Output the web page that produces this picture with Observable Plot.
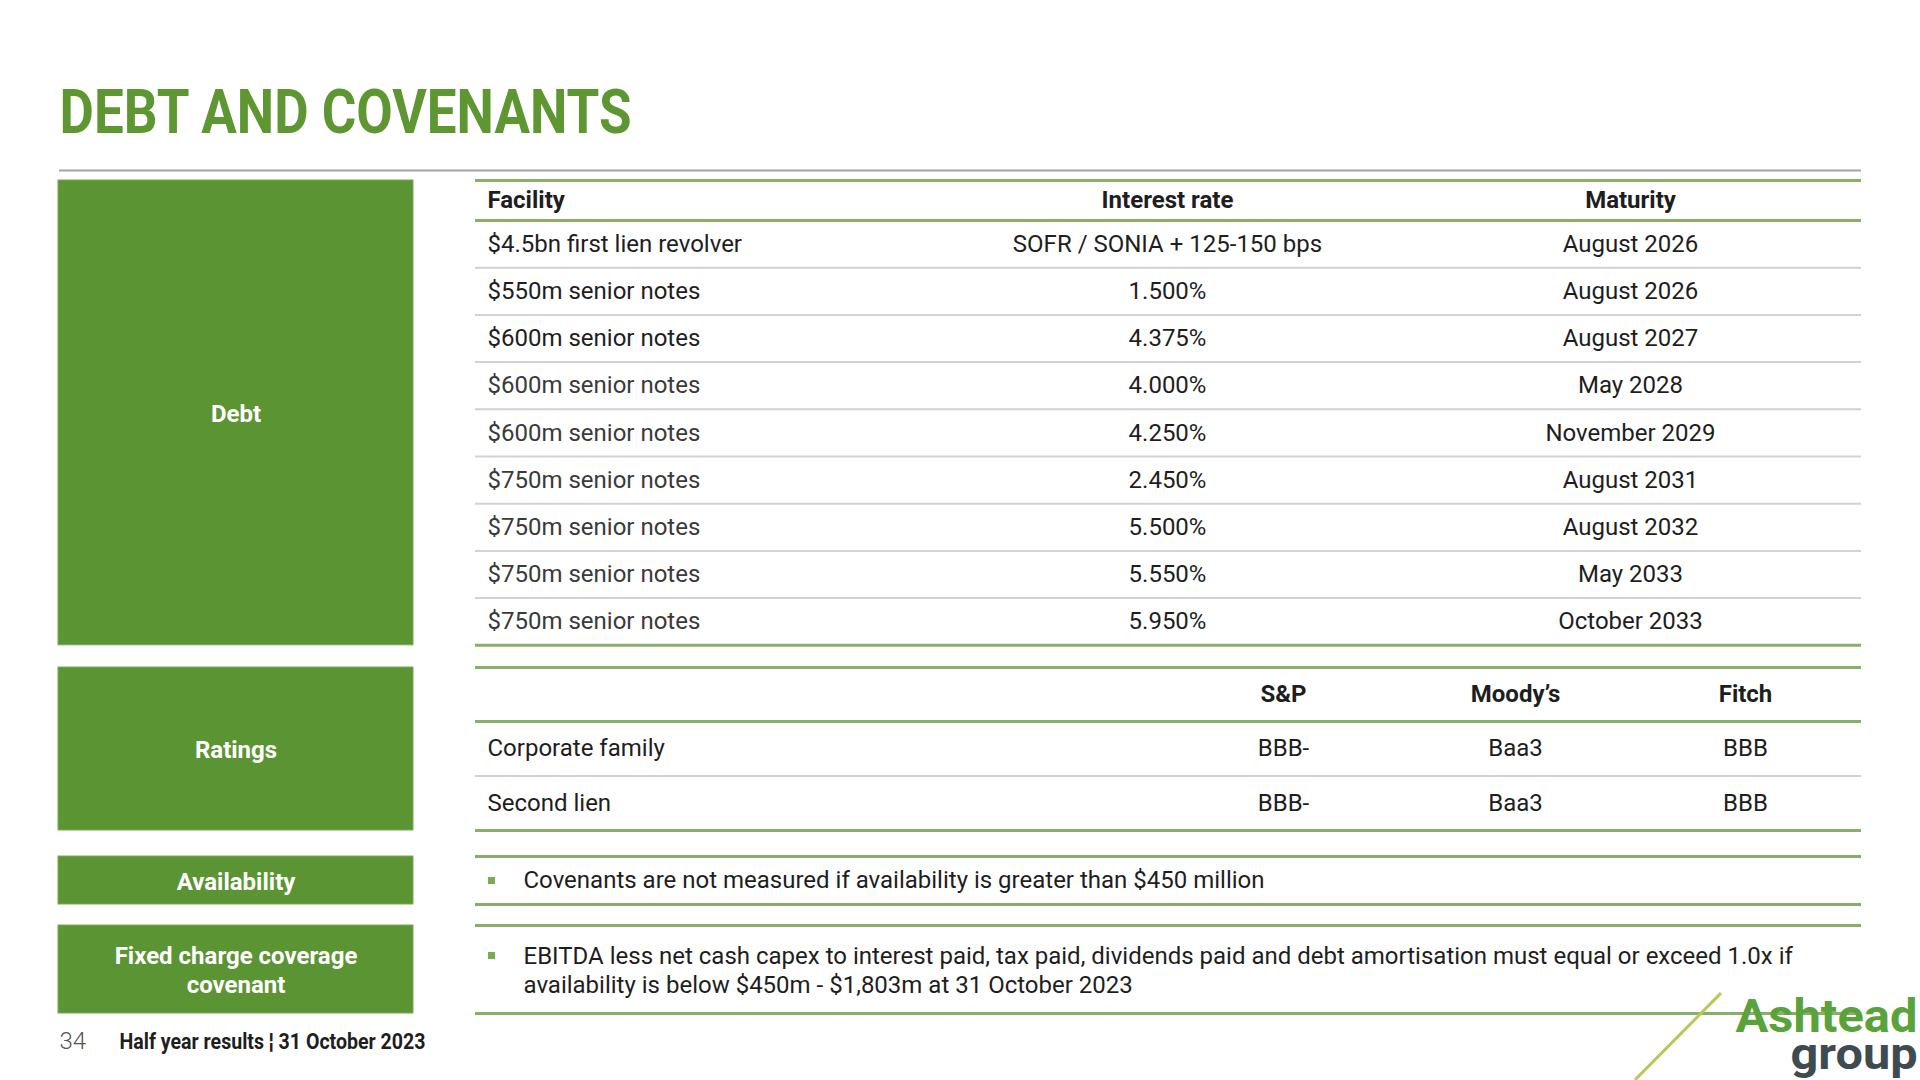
<!DOCTYPE html>
<html>
<head>
<meta charset="utf-8">
<script src="https://cdn.jsdelivr.net/npm/d3@7"></script>
<script src="https://cdn.jsdelivr.net/npm/@observablehq/plot@0.6"></script>
<style>
  html, body { margin: 0; padding: 0; background: #ffffff; }
  #slide { position: relative; width: 1920px; height: 1080px; overflow: hidden; background: #ffffff; font-family: Roboto, sans-serif; }
  #slide svg { position: absolute; left: 0; top: 0; }
  #stripe { position: absolute; left: 1617px; top: 1035px; width: 122px; height: 3px; background: #bcc65a; transform: rotate(-45.3deg); }
</style>
</head>
<body>
<div id="slide"><div id="stripe"></div></div>
<script>
// ---------------- data ----------------
const title = "DEBT AND COVENANTS";
const sections = ["Debt", "Ratings", "Availability", "Fixed charge coverage\ncovenant"];
const debtColumns = ["Facility", "Interest rate", "Maturity"];
const facilities = [
  "$4.5bn first lien revolver", "$550m senior notes", "$600m senior notes",
  "$600m senior notes", "$600m senior notes", "$750m senior notes",
  "$750m senior notes", "$750m senior notes", "$750m senior notes"
];
const interestRates = [
  "SOFR / SONIA + 125-150 bps", "1.500%", "4.375%", "4.000%", "4.250%",
  "2.450%", "5.500%", "5.550%", "5.950%"
];
const maturities = [
  "August 2026", "August 2026", "August 2027", "May 2028", "November 2029",
  "August 2031", "August 2032", "May 2033", "October 2033"
];
const ratingAgencies = ["S&P", "Moody’s", "Fitch"];
const ratingRows = ["Corporate family", "Second lien"];
const ratingSP = ["BBB-", "BBB-"];
const ratingMoodys = ["Baa3", "Baa3"];
const ratingFitch = ["BBB", "BBB"];
const availabilityText = "Covenants are not measured if availability is greater than $450 million";
const covenantText = "EBITDA less net cash capex to interest paid, tax paid, dividends paid and debt amortisation must equal or exceed 1.0x if\navailability is below $450m - $1,803m at 31 October 2023";
const pageNumber = "34";
const footerText = "Half year results ¦ 31 October 2023";
const logoWords = ["Ashtead", "group"];

// ---------------- layout (slide pixels) ----------------
const L = {
  titleX: 59, titleBase: 132, titleLen: 572,
  topRuleY: 170, topRuleX1: 59, topRuleX2: 1861,
  boxX1: 58, boxX2: 413,
  tX1: 475, tX2: 1861, textX: 487,
  colRate: 1167, colMat: 1630,
  colRatings: [1283, 1515, 1745],
  bulletX: 491, bulletTextX: 523,
  debtTop: 180, debtHead: 40, debtRow: 47.2,
  ratTop: 667, ratHead: 54, ratRow: 54.5,
  availTop: 856, availBottom: 904,
  fixTop: 925, fixBottom: 1013,
  footY: 1041, pageX: 59, footX: 119, footLen: 306,
  logoRight: 1917, ashteadBase: 1031, groupBase: 1068
};

const GREEN = "#5b9432", TITLE_GREEN = "#5e9732", RULE_GREEN = "#8aae67", RULE_GRAY = "#d2d2d2", INK = "#1e1e1e";

// ---------------- derived mark tables ----------------
const debtHeadBottom = L.debtTop + L.debtHead;
const debtBottom = debtHeadBottom + L.debtRow * facilities.length;
const ratHeadBottom = L.ratTop + L.ratHead;
const ratBottom = ratHeadBottom + L.ratRow * ratingRows.length;

const boxes = [
  {label: sections[0], y1: L.debtTop, y2: debtBottom},
  {label: sections[1], y1: L.ratTop, y2: ratBottom},
  {label: sections[2], y1: L.availTop, y2: L.availBottom},
  {label: sections[3], y1: L.fixTop, y2: L.fixBottom}
];

const greenRules = [L.debtTop, debtHeadBottom, debtBottom, L.ratTop, ratHeadBottom, ratBottom,
  L.availTop, L.availBottom, L.fixTop, L.fixBottom].map(y => ({y}));
const grayRules = [
  ...d3.range(1, facilities.length).map(i => ({y: debtHeadBottom + i * L.debtRow})),
  ...d3.range(1, ratingRows.length).map(i => ({y: ratHeadBottom + i * L.ratRow}))
];

const debtHeadY = L.debtTop + L.debtHead / 2;
const ratHeadY = L.ratTop + L.ratHead / 2;
const headStart = [{text: debtColumns[0], x: L.textX, y: debtHeadY}];
const headMiddle = [
  {text: debtColumns[1], x: L.colRate, y: debtHeadY},
  {text: debtColumns[2], x: L.colMat, y: debtHeadY},
  ...ratingAgencies.map((a, j) => ({text: a, x: L.colRatings[j], y: ratHeadY}))
];

const rowY = i => debtHeadBottom + L.debtRow * (i + 0.5);
const ratY = i => ratHeadBottom + L.ratRow * (i + 0.5);
const bodyStart = [
  ...facilities.map((t, i) => ({text: t, x: L.textX, y: rowY(i), fill: i < 3 ? INK : "#3a3a3a"})),
  ...ratingRows.map((t, i) => ({text: t, x: L.textX, y: ratY(i), fill: INK})),
  {text: availabilityText, x: L.bulletTextX, y: (L.availTop + L.availBottom) / 2, fill: INK}
];
const covenantCell = [{text: covenantText, x: L.bulletTextX, y: (L.fixTop + L.fixBottom) / 2}];
const bodyMiddle = [
  ...interestRates.map((t, i) => ({text: t, x: L.colRate, y: rowY(i)})),
  ...maturities.map((t, i) => ({text: t, x: L.colMat, y: rowY(i)})),
  ...ratingSP.map((t, i) => ({text: t, x: L.colRatings[0], y: ratY(i)})),
  ...ratingMoodys.map((t, i) => ({text: t, x: L.colRatings[1], y: ratY(i)})),
  ...ratingFitch.map((t, i) => ({text: t, x: L.colRatings[2], y: ratY(i)}))
];

const bullets = [
  {y: (L.availTop + L.availBottom) / 2},
  {y: (L.fixTop + L.fixBottom) / 2 - 14}
];

// ---------------- plot ----------------
const svg = Plot.plot({
  width: 1920, height: 1080,
  margin: 0,
  x: {type: "linear", domain: [0, 1920], range: [0, 1920], axis: null},
  y: {type: "linear", domain: [0, 1080], range: [0, 1080], axis: null},
  style: {fontFamily: "Roboto, sans-serif", background: "#ffffff", overflow: "visible"},
  marks: [
    // title
    Plot.text([title], {x: L.titleX, y: L.titleBase, text: d => d, textAnchor: "start", lineAnchor: "bottom",
      fontSize: 62, fontWeight: "bold", fill: TITLE_GREEN}),
    // top separator
    Plot.ruleY([L.topRuleY], {x1: L.topRuleX1, x2: L.topRuleX2, stroke: "#a3a3a3", strokeWidth: 2}),
    // section boxes
    Plot.rect(boxes, {x1: L.boxX1, x2: L.boxX2, y1: "y1", y2: "y2", fill: GREEN, stroke: "#7aa956", strokeWidth: 1}),
    Plot.text(boxes, {x: (L.boxX1 + L.boxX2) / 2, y: d => (d.y1 + d.y2) / 2, text: "label", fill: "#ffffff",
      textAnchor: "middle", fontSize: 24, fontWeight: "bold", lineAnchor: "middle", lineHeight: 1.17}),
    // table rules
    Plot.ruleY(grayRules, {y: "y", x1: L.tX1, x2: L.tX2, stroke: RULE_GRAY, strokeWidth: 2}),
    Plot.ruleY(greenRules, {y: "y", x1: L.tX1, x2: L.tX2, stroke: RULE_GREEN, strokeWidth: 3}),
    // headers
    Plot.text(headStart, {x: "x", y: "y", text: "text", textAnchor: "start", fontSize: 24, fontWeight: "bold",
      fill: INK, lineAnchor: "middle"}),
    Plot.text(headMiddle, {x: "x", y: "y", text: "text", textAnchor: "middle", fontSize: 24, fontWeight: "bold",
      fill: INK, lineAnchor: "middle"}),
    // body
    Plot.text(bodyStart, {x: "x", y: "y", text: "text", textAnchor: "start", fontSize: 24,
      fill: d => d.fill, lineAnchor: "middle"}),
    Plot.text(covenantCell, {x: "x", y: "y", text: "text", textAnchor: "start", fontSize: 24,
      fill: INK, lineAnchor: "middle", lineHeight: 1.17}),
    Plot.text(bodyMiddle, {x: "x", y: "y", text: "text", textAnchor: "middle", fontSize: 24,
      fill: INK, lineAnchor: "middle"}),
    // bullets
    Plot.dot(bullets, {x: L.bulletX, y: "y", symbol: "square", r: 4, fill: "#7aab55", stroke: null}),
    // footer
    Plot.text([pageNumber], {x: L.pageX, y: L.footY, text: d => d, textAnchor: "start", lineAnchor: "middle",
      fontSize: 24, fontWeight: 300, fill: "#555555"}),
    Plot.text([footerText], {x: L.footX, y: L.footY, text: d => d, textAnchor: "start", lineAnchor: "middle",
      fontSize: 22, fontWeight: "bold", fill: INK}),
    // logo words
    Plot.text([logoWords[0]], {x: L.logoRight, y: L.ashteadBase, text: d => d, textAnchor: "end", lineAnchor: "bottom",
      fontSize: 46, fontWeight: "bold", fill: "#5aa23a"}),
    Plot.text([logoWords[1]], {x: L.logoRight, y: L.groupBase, text: d => d, textAnchor: "end", lineAnchor: "bottom",
      fontSize: 44, fontWeight: "bold", fill: "#3e4b50"})
  ]
});

// condense a few texts, as in the original condensed typeface
function fit(content, len) {
  svg.querySelectorAll("text").forEach(t => {
    if (t.textContent === content && !t.querySelector("tspan")) {
      t.setAttribute("textLength", len);
      t.setAttribute("lengthAdjust", "spacingAndGlyphs");
    }
  });
}
fit(title, L.titleLen);
fit(footerText, L.footLen);
fit(logoWords[0], 182);
fit(logoWords[1], 127);

document.getElementById("slide").prepend(svg);
</script>
</body>
</html>
